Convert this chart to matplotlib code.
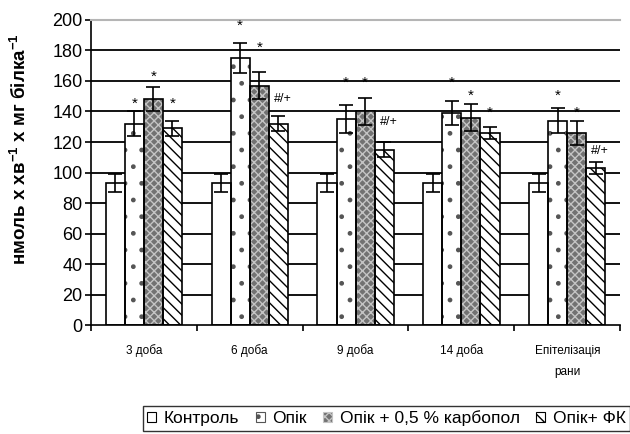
import matplotlib
matplotlib.use('Agg')
import matplotlib.pyplot as plt
import numpy as np
from matplotlib.patches import Patch

plt.rcParams['font.family'] = ['Liberation Sans', 'DejaVu Sans']
plt.rcParams['mathtext.fontset'] = 'custom'
plt.rcParams['mathtext.rm'] = 'Liberation Sans'
plt.rcParams['mathtext.bf'] = 'Liberation Sans:bold'
plt.rcParams['hatch.linewidth'] = 1.0

# data
categories = ['3 доба', '6 доба', '9 доба', '14 доба', 'Епітелізація\nрани']
series = ['Контроль', 'Опік', 'Опік + 0,5 % карбопол', 'Опік+ ФК']
control = [93, 93, 93, 93, 93]
control_err = [6, 6, 6, 6, 6]
burn = [132, 175, 135, 139, 134]
burn_err = [8, 10, 9, 8, 8]
carbopol = [148, 157, 140, 136, 126]
carbopol_err = [8, 9, 9, 9, 8]
fk = [129, 132, 115, 126, 103]
fk_err = [5, 5, 5, 4, 4]

# significance marks: (series index, category index, label, y)
marks = [
    (1, 0, '*', 145), (2, 0, '*', 163), (3, 0, '*', 145),
    (1, 1, '*', 196), (2, 1, '*', 182), (3, 1, '#/+', 148),
    (1, 2, '*', 159), (2, 2, '*', 159), (3, 2, '#/+', 133),
    (1, 3, '*', 159), (2, 3, '*', 150), (3, 3, '*', 139),
    (1, 4, '*', 150), (2, 4, '*', 139), (3, 4, '#/+', 114),
]

values = [control, burn, carbopol, fk]
errors = [control_err, burn_err, carbopol_err, fk_err]
styles = [
    dict(facecolor='white', hatch=None, hcolor='black'),
    dict(facecolor='white', hatch='.', hcolor='#555555'),
    dict(facecolor='#727272', hatch='xxxx', hcolor='#c4c4c4'),
    dict(facecolor='white', hatch='\\\\\\', hcolor='black'),
]

fig = plt.figure(figsize=(6.3, 4.34), dpi=100)
ax = fig.add_axes([0.1444, 0.251, 0.84, 0.703])

x = np.arange(len(categories))
w = 0.18
for j, (vals, errs, st) in enumerate(zip(values, errors, styles)):
    pos = x + (j - 1.5) * w
    ax.bar(pos, vals, w, facecolor=st['facecolor'], hatch=st['hatch'],
           edgecolor=st['hcolor'], linewidth=0, zorder=2)
    ax.bar(pos, vals, w, facecolor='none', edgecolor='black', linewidth=1.2, zorder=3)
    ax.errorbar(pos, vals, yerr=errs, fmt='none', ecolor='black',
                elinewidth=1.2, capsize=5, capthick=1.2, zorder=4)

for j, i, lab, yv in marks:
    xp = i + (j - 1.5) * w
    if lab != '*':
        xp += 0.04
        fs = 9
    else:
        fs = 11
    ax.text(xp, yv, lab, ha='center', va='center', fontsize=fs, zorder=5)

ax.set_xlim(-0.5, len(categories) - 0.5)
ax.set_ylim(0, 200)
ax.set_yticks(np.arange(0, 201, 20))
ax.tick_params(axis='y', labelsize=13, length=4, width=1.2, direction='out', pad=2)
ax.set_xticks(x)
ax.set_xticklabels(categories, fontsize=8.5, linespacing=2.0)
ax.tick_params(axis='x', which='major', length=0, pad=14)
ax.set_xticks(np.arange(-0.5, len(categories), 1.0), minor=True)
ax.tick_params(axis='x', which='minor', length=4, width=1.2, direction='out')

for yv in range(20, 200, 20):
    ax.axhline(yv, color='black', linewidth=1.3, zorder=1)

ax.spines['right'].set_visible(False)
ax.spines['top'].set_color('#b5b5b5')
ax.spines['top'].set_linewidth(1.5)
ax.spines['left'].set_linewidth(1.2)
ax.spines['bottom'].set_linewidth(1.2)

ax.set_ylabel(r'нмоль x хв$^{\mathbf{-1}}$ x мг білка$^{\mathbf{-1}}$',
              fontsize=13.5, fontweight='bold')
ax.yaxis.set_label_coords(-0.115, 0.575)

handles = [Patch(facecolor=st['facecolor'], hatch=st['hatch'], edgecolor=st['hcolor'] if st['hatch'] else 'black',
                 linewidth=0.8) for st in styles]
leg = fig.legend(handles, series, loc='upper left', bbox_to_anchor=(143 / 630, 1 - 406 / 434),
                 ncol=4, fontsize=12.5, frameon=True, fancybox=False, edgecolor='black',
                 handlelength=0.5, handleheight=0.5, handletextpad=0.45, columnspacing=0.95,
                 borderpad=0.25, borderaxespad=0)
leg.get_frame().set_linewidth(1.0)

fig.savefig('out.png', dpi=100)
